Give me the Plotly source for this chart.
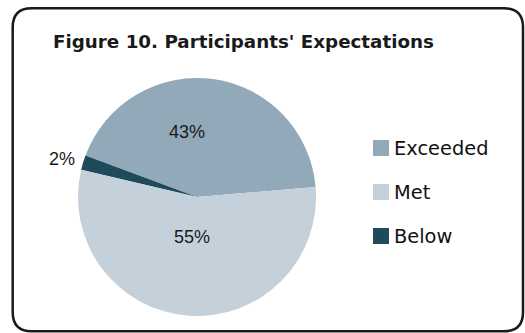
import plotly.graph_objects as go

# Survey results
categories = ["Exceeded", "Below", "Met"]
shares = [43, 2, 55]
slice_colors = ["#91a9b8", "#1f4a5a", "#c4d1db"]

# Order in which the legend lists the categories
legend_order = ["Exceeded", "Met", "Below"]

title_text = "Figure 10. Participants' Expectations"

W, H = 525, 333


def px(x):
    return x / W


def py(y):
    return 1 - y / H


# Pie placement (pixels): centre and radius
cx, cy, rad = 197, 197, 119

fig = go.Figure(
    go.Pie(
        labels=categories,
        values=shares,
        sort=False,
        direction="counterclockwise",
        rotation=-69.6,
        marker=dict(colors=slice_colors, line=dict(width=0)),
        textinfo="none",
        hoverinfo="label+percent",
        showlegend=False,
        domain=dict(x=[px(cx - rad), px(cx + rad)], y=[py(cy + rad), py(cy - rad)]),
    )
)

annotations = []
shapes = []

# Title
annotations.append(dict(
    text=f"<b>{title_text}</b>", x=px(51), y=py(41), xref="paper", yref="paper",
    xanchor="left", yanchor="middle", showarrow=False,
    font=dict(family="DejaVu Sans", size=18.3, color="#1a1a1a"),
))

# Percentage labels for each slice
label_pos = {"Exceeded": (187, 132), "Below": (62, 159), "Met": (192, 237)}
for cat, val in zip(categories, shares):
    lx, ly = label_pos[cat]
    annotations.append(dict(
        text=f"{val}%", x=px(lx), y=py(ly), xref="paper", yref="paper",
        xanchor="center", yanchor="middle", showarrow=False,
        font=dict(family="Liberation Sans, Arial", size=18, color="#1a1a1a"),
    ))

# Legend: square swatches with labels
color_of = dict(zip(categories, slice_colors))
leg_x, leg_y0, leg_step, sw = 373, 148, 44, 16
for i, cat in enumerate(legend_order):
    yc = leg_y0 + i * leg_step
    shapes.append(dict(
        type="rect", xref="paper", yref="paper",
        x0=px(leg_x), x1=px(leg_x + sw), y0=py(yc + sw / 2), y1=py(yc - sw / 2),
        fillcolor=color_of[cat], line=dict(width=0),
    ))
    annotations.append(dict(
        text=cat, x=px(leg_x + sw + 3), y=py(yc), xref="paper", yref="paper",
        xanchor="left", yanchor="middle", showarrow=False,
        font=dict(family="DejaVu Sans", size=19.4, color="#111111"),
    ))

# Rounded frame around the chart
x0, y0, x1, y1, r = 12.7, 8.3, 523, 331.2, 19
pts = [
    ("M", [(x0 + r, y0)]),
    ("L", [(x1 - r, y0)]),
    ("Q", [(x1, y0), (x1, y0 + r)]),
    ("L", [(x1, y1 - r)]),
    ("Q", [(x1, y1), (x1 - r, y1)]),
    ("L", [(x0 + r, y1)]),
    ("Q", [(x0, y1), (x0, y1 - r)]),
    ("L", [(x0, y0 + r)]),
    ("Q", [(x0, y0), (x0 + r, y0)]),
]
path = " ".join(
    cmd + " " + " ".join(f"{px(a):.5f},{py(b):.5f}" for a, b in p) for cmd, p in pts
) + " Z"
shapes.append(dict(type="path", xref="paper", yref="paper", path=path,
                   line=dict(color="#1a1a1a", width=2.5)))

fig.update_layout(
    width=W, height=H,
    margin=dict(l=0, r=0, t=0, b=0),
    paper_bgcolor="white", plot_bgcolor="white",
    annotations=annotations, shapes=shapes,
)

fig.write_html("out.html")
